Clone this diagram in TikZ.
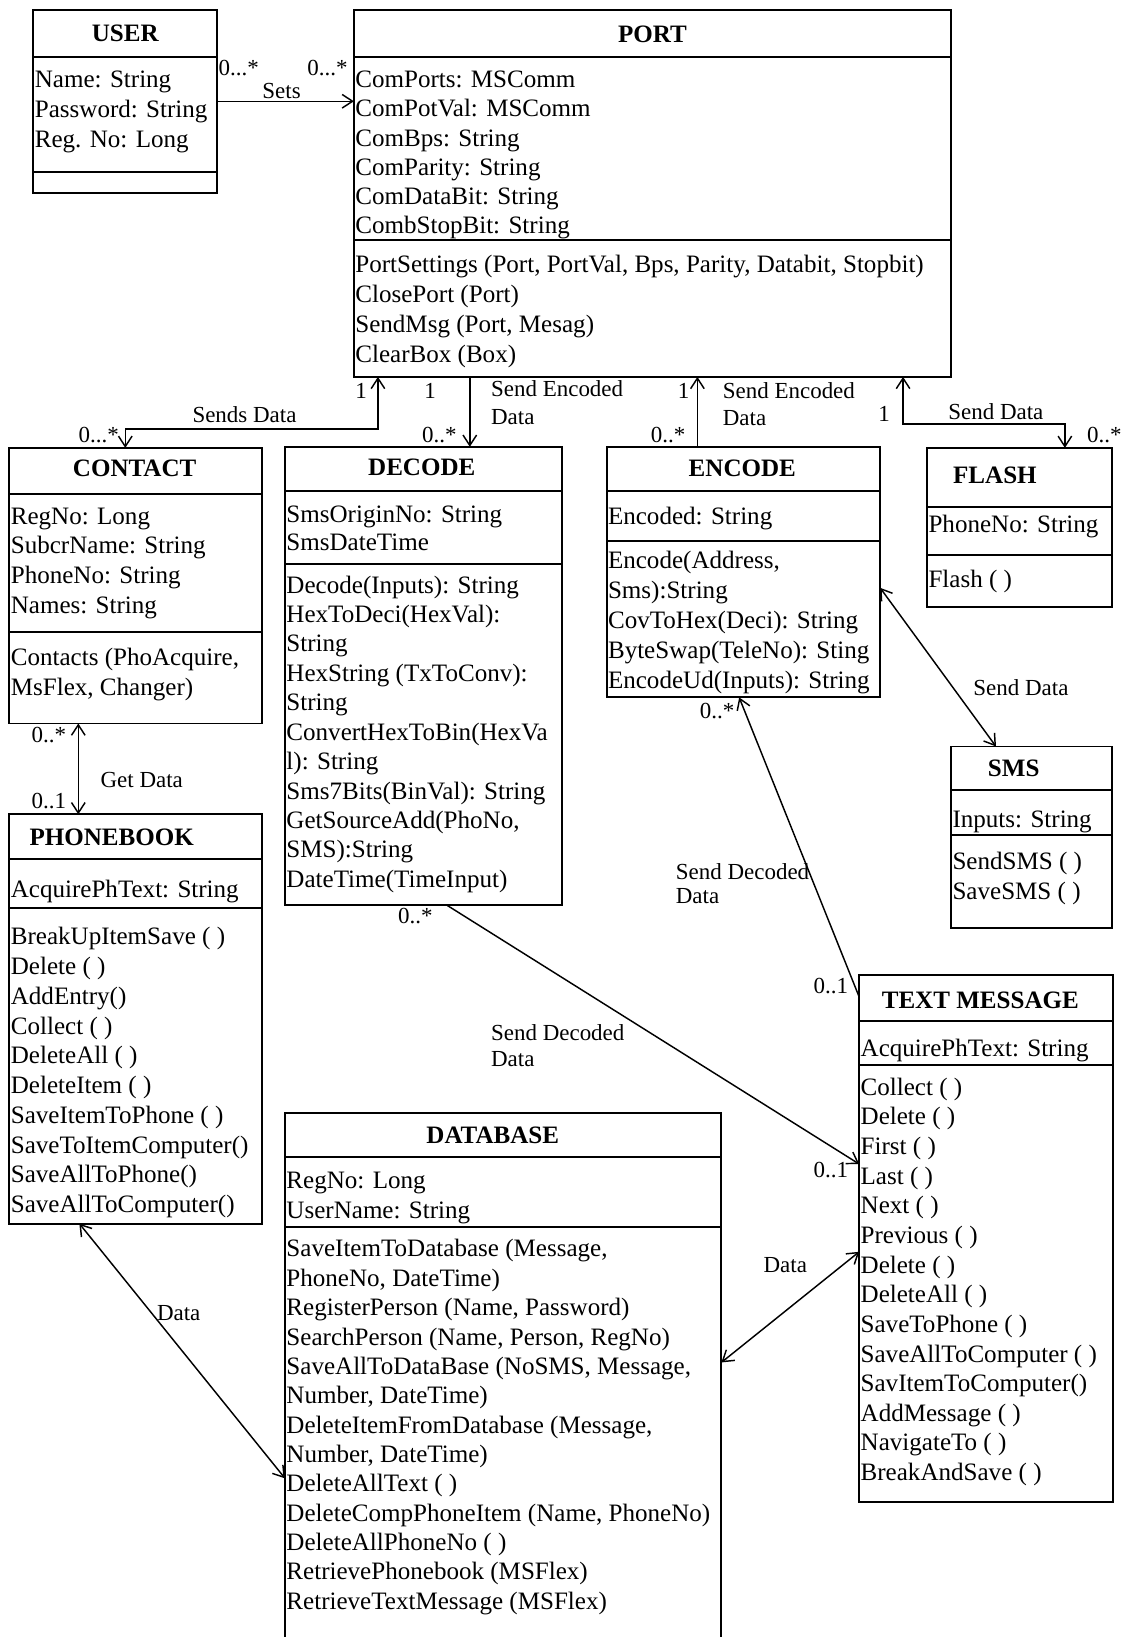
\documentclass[tikz,border=0pt]{standalone}
\usepackage{fontspec}
\setmainfont{Liberation Serif}
\usetikzlibrary{arrows.meta,fit}
\tikzset{
  boxline/.style={draw, line width=0.9pt},
  cls/.style={boxline, inner sep=0pt, outer sep=0pt},
  conn/.style={line width=0.7pt},
  ttl/.style={inner sep=0pt, font=\fontsize{12}{14}\selectfont\bfseries},
  txt/.style={anchor=base west, inner sep=0pt, font=\fontsize{12}{14}\selectfont},
  lbl/.style={anchor=base west, inner sep=0pt, font=\fontsize{11}{13}\selectfont}
}
\newcommand{\umlcls}[7]{%
  \node[cls, fit={(#2,#3) (#4,#5)}] (#1) {};
  \draw[boxline] (#1.west |- 0,#6) -- (#1.east |- 0,#6);
  \draw[boxline] (#1.west |- 0,#7) -- (#1.east |- 0,#7);
}
\newcommand{\cltext}[5]{%
  \foreach \clitem [count=\cli from 0] in {#5}{%
    \node[txt] (#1\cli) at (#2,{#3+\cli*#4}) {\clitem};
  }%
}
\begin{document}
\begin{tikzpicture}[x=0.5pt,y=-0.5pt,>={Straight Barb[length=5pt,width=6.5pt]}]
\useasboundingbox (0,0) rectangle (1078,1568);
\fill[white] (0,0) rectangle (1078,1568);

% USER
\umlcls{user}{32}{10}{208}{185}{55}{165}
\node[ttl] (user-t) at (120,32) {USER};
\cltext{user-a}{33}{84}{28.5}{Name: String, Password: String, Reg. No: Long}

% PORT
\umlcls{port}{339}{10}{911}{361}{55}{230}
\node[ttl] (port-t) at (625,33) {PORT};
\cltext{port-a}{340}{84}{28}{ComPorts: MSComm, ComPotVal: MSComm, ComBps: String, ComParity: String, ComDataBit: String, CombStopBit: String}
\cltext{port-m}{340}{261}{28.7}{{PortSettings (Port, PortVal, Bps, Parity, Databit, Stopbit)}, ClosePort (Port), {SendMsg (Port, Mesag)}, ClearBox (Box)}

% CONTACT
\umlcls{contact}{9}{429}{251}{693}{473}{605}
\node[ttl] (contact-t) at (129,449) {CONTACT};
\cltext{contact-a}{10}{502}{28.4}{RegNo: Long, SubcrName: String, PhoneNo: String, Names: String}
\cltext{contact-m}{10}{637}{29}{{Contacts (PhoAcquire,}, {MsFlex, Changer)}}

% DECODE
\umlcls{decode}{273}{428}{538}{867}{470}{540}
\node[ttl] (decode-t) at (404,448) {DECODE};
\cltext{decode-a}{274}{500}{27.5}{SmsOriginNo: String, SmsDateTime}
\cltext{decode-m}{274}{568}{28.2}{Decode(Inputs): String, HexToDeci(HexVal):, String, HexString (TxToConv):, String, ConvertHexToBin(HexVa, l): String, Sms7Bits(BinVal): String, {GetSourceAdd(PhoNo,}, SMS):String, DateTime(TimeInput)}

% ENCODE
\umlcls{encode}{581}{428}{843}{668}{470}{518}
\node[ttl] (encode-t) at (711,449) {ENCODE};
\cltext{encode-a}{582}{502}{28}{Encoded: String}
\cltext{encode-m}{582}{545}{28.6}{{Encode(Address,}, Sms):String, CovToHex(Deci): String, ByteSwap(TeleNo): Sting, EncodeUd(Inputs): String}

% FLASH
\umlcls{flash}{888}{429}{1065}{581}{486}{532}
\node[ttl] (flash-t) at (953,455) {FLASH};
\cltext{flash-a}{889}{510}{28}{PhoneNo: String}
\cltext{flash-m}{889}{563}{28}{Flash ( )}

% SMS
\umlcls{sms}{911}{715}{1065}{889}{757}{800}
\node[ttl] (sms-t) at (971,736) {SMS};
\cltext{sms-a}{912}{793}{28}{Inputs: String}
\cltext{sms-m}{912}{833}{29}{SendSMS ( ), SaveSMS ( )}

% PHONEBOOK
\umlcls{phonebook}{9}{780}{251}{1172}{823}{870}
\node[ttl] (phonebook-t) at (107,802) {PHONEBOOK};
\cltext{phonebook-a}{10}{860}{28}{AcquirePhText: String}
\cltext{phonebook-m}{10}{905}{28.5}{BreakUpItemSave ( ), Delete ( ), AddEntry(), Collect ( ), DeleteAll ( ), DeleteItem ( ), SaveItemToPhone ( ), SaveToItemComputer(), SaveAllToPhone(), SaveAllToComputer()}

% TEXT MESSAGE
\umlcls{tm}{823}{934}{1066}{1439}{978}{1020}
\node[ttl] (tm-t) at (939,958) {TEXT MESSAGE};
\cltext{tm-a}{824}{1012}{28}{AcquirePhText: String}
\cltext{tm-m}{824}{1049}{28.4}{Collect ( ), Delete ( ), First ( ), Last ( ), Next ( ), Previous ( ), Delete ( ), DeleteAll ( ), SaveToPhone ( ), SaveAllToComputer ( ), SavItemToComputer(), AddMessage ( ), NavigateTo ( ), BreakAndSave ( )}

% DATABASE
\umlcls{database}{273}{1066}{691}{1590}{1108}{1175}
\node[ttl] (database-t) at (472,1087) {DATABASE};
\cltext{database-a}{274}{1138}{29}{RegNo: Long, UserName: String}
\cltext{database-m}{274}{1204}{28.1}{{SaveItemToDatabase (Message,}, {PhoneNo, DateTime)}, {RegisterPerson (Name, Password)}, {SearchPerson (Name, Person, RegNo)}, {SaveAllToDataBase (NoSMS, Message,}, {Number, DateTime)}, {DeleteItemFromDatabase (Message,}, {Number, DateTime)}, DeleteAllText ( ), {DeleteCompPhoneItem (Name, PhoneNo)}, DeleteAllPhoneNo ( ), RetrievePhonebook (MSFlex), RetrieveTextMessage (MSFlex)}

% ---- connectors ----
% USER -> PORT
\draw[conn,->] (user.east |- 0,97) -- (port.west |- 0,97);
\node[lbl] (l-us1) at (209,72) {0...*};
\node[lbl] (l-us2) at (294,72) {0...*};
\node[lbl] (l-us3) at (251,94) {Sets};

% PORT <-> CONTACT
\draw[conn,<->] (port.south -| 362,0) |- (120,411) -- (contact.north -| 120,0);
\node[lbl] (l-pc1) at (340,382) {1};
\node[lbl] (l-pc2) at (184,405) {Sends Data};
\node[lbl] (l-pc3) at (75,424) {0...*};

% PORT -> DECODE
\draw[conn,->] (port.south -| 450,0) -- (decode.north -| 450,0);
\node[lbl] (l-pd1) at (406,382) {1};
\node[lbl] (l-pd2) at (470,380) {Send Encoded};
\node[lbl] (l-pd3) at (470,407) {Data};
\node[lbl] (l-pd4) at (404,424) {0..*};

% ENCODE -> PORT
\draw[conn,->] (encode.north -| 668,0) -- (port.south -| 668,0);
\node[lbl] (l-ep1) at (649,382) {1};
\node[lbl] (l-ep2) at (692,382) {Send Encoded};
\node[lbl] (l-ep3) at (692,408) {Data};
\node[lbl] (l-ep4) at (623,424) {0..*};

% PORT <-> FLASH
\draw[conn,<->] (port.south -| 865,0) |- (1020,406) -- (flash.north -| 1020,0);
\node[lbl] (l-pf1) at (841,404) {1};
\node[lbl] (l-pf2) at (908,402) {Send Data};
\node[lbl] (l-pf3) at (1041,424) {0..*};

% ENCODE <-> SMS
\draw[conn,<->] (encode.east |- 0,563) -- (sms.north -| 954,0);
\node[lbl] (l-es1) at (932,666) {Send Data};

% CONTACT <-> PHONEBOOK
\draw[conn,<->] (contact.south -| 75,0) -- (phonebook.north -| 75,0);
\node[lbl] (l-cp1) at (30,711) {0..*};
\node[lbl] (l-cp2) at (96,754) {Get Data};
\node[lbl] (l-cp3) at (30,774) {0..1};

% DECODE -> TEXT MESSAGE
\draw[conn,->] (decode.south -| 428,0) -- (tm.west |- 0,1115);
\node[lbl] (l-dt1) at (381,885) {0..*};
\node[lbl] (l-dt2) at (779,1128) {0..1};
\node[lbl] (l-dt3) at (470,997) {Send Decoded};
\node[lbl] (l-dt4) at (470,1022) {Data};

% TEXT MESSAGE -> ENCODE
\draw[conn,->] (tm.west |- 0,955) -- (encode.south -| 708,0);
\node[lbl] (l-te1) at (670,688) {0..*};
\node[lbl] (l-te2) at (779,952) {0..1};
\node[lbl] (l-te3) at (647,842) {Send Decoded};
\node[lbl] (l-te4) at (647,865) {Data};

% PHONEBOOK <-> DATABASE
\draw[conn,<->] (phonebook.south -| 76,0) -- (database.west |- 0,1416);
\node[lbl] (l-pdb) at (150,1265) {Data};

% DATABASE <-> TEXT MESSAGE
\draw[conn,<->] (database.east |- 0,1305) -- (tm.west |- 0,1199);
\node[lbl] (l-dbt) at (731,1219) {Data};
\end{tikzpicture}
\end{document}
